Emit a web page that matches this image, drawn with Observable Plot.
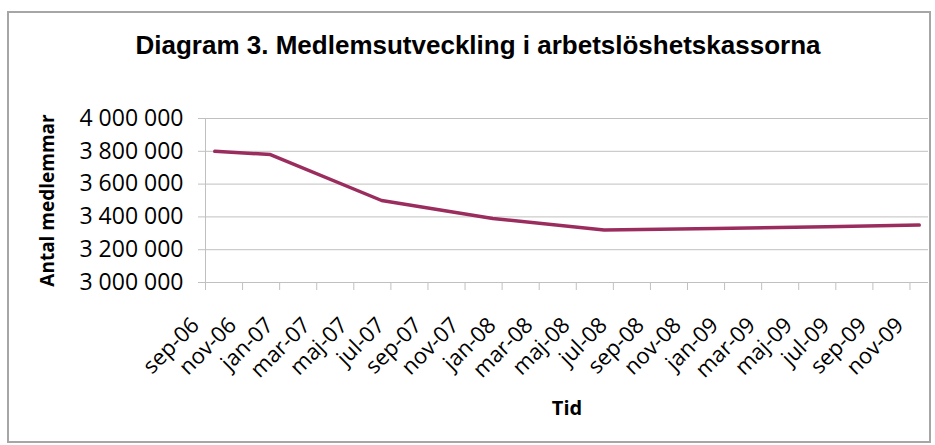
<!DOCTYPE html>
<html>
<head>
<meta charset="utf-8">
<script src="https://cdn.jsdelivr.net/npm/d3@7"></script>
<script src="https://cdn.jsdelivr.net/npm/@observablehq/plot@0.6"></script>
<style>
  body { margin: 0; background: #ffffff; }
  #wrap { position: relative; width: 935px; height: 445px; }
  #border { position: absolute; left: 7px; top: 11px; width: 920px; height: 428px; border: 2px solid #a6a6a6; pointer-events: none; }
  #wrap svg { position: absolute; left: 0; top: 0; }
</style>
</head>
<body>
<div id="wrap"><div id="border"></div></div>
<script>
const titleText = "Diagram 3. Medlemsutveckling i arbetslöshetskassorna";
const yTitle = "Antal medlemmar";
const xTitle = "Tid";

const monthNames = ["jan","feb","mar","apr","maj","jun","jul","aug","sep","okt","nov","dec"];
const tickLabels = ["sep-06","nov-06","jan-07","mar-07","maj-07","jul-07","sep-07","nov-07",
  "jan-08","mar-08","maj-08","jul-08","sep-08","nov-08","jan-09","mar-09","maj-09","jul-09","sep-09","nov-09"];
const dataMonths = ["sep-06","dec-06","jun-07","dec-07","jun-08","dec-08","jun-09","nov-09"];
const members = [3800000, 3780000, 3500000, 3390000, 3320000, 3330000, 3340000, 3350000];
const yTicks = [3000000, 3200000, 3400000, 3600000, 3800000, 4000000];

// month index relative to the first month on the axis
const first = tickLabels[0];
function monthIndex(s) {
  const [m, y] = s.split("-");
  const [m0, y0] = first.split("-");
  return (+y - +y0) * 12 + monthNames.indexOf(m) - monthNames.indexOf(m0);
}
const lastIndex = monthIndex(dataMonths[dataMonths.length - 1]);
const rows = dataMonths.map((d, i) => ({m: monthIndex(d), v: members[i]}));
// category boundaries (ticks) sit half a month before each labelled month
const tickRows = tickLabels.map(l => ({pos: monthIndex(l) - 0.5, label: l}));

const fmt = d => d3.format(",")(d).replace(/,/g, " ");
const grid = "#c0c0c0";

const chart = Plot.plot({
  width: 935,
  height: 445,
  marginLeft: 205,
  marginRight: 7,
  marginTop: 118,
  marginBottom: 163,
  x: {domain: [-0.5, lastIndex + 0.5], axis: null},
  y: {domain: [yTicks[0], yTicks[yTicks.length - 1]], axis: null},
  style: {background: "transparent", fontFamily: "'Open Sans', sans-serif", color: "#000", overflow: "visible"},
  marks: [
    Plot.ruleY(yTicks, {stroke: grid, strokeWidth: 1}),
    Plot.ruleX([-0.5], {stroke: grid, strokeWidth: 1}),
    Plot.axisY({ticks: yTicks, tickSize: 7, tickPadding: 15, tickFormat: fmt, fontSize: 23, stroke: grid, fill: "#000", label: null}),
    Plot.axisX({ticks: tickRows.map(d => d.pos), tickSize: 8, tickFormat: () => "", stroke: grid, label: null}),
    Plot.text(tickRows, {x: "pos", text: "label", frameAnchor: "bottom", rotate: -45, textAnchor: "end", lineAnchor: "bottom", dx: -5, dy: 44, fontSize: 22, fill: "#000"}),
    Plot.line(rows, {x: "m", y: "v", stroke: "#9b2d5e", strokeWidth: 3.5, strokeLinejoin: "round", strokeLinecap: "round"}),
    Plot.text([titleText], {text: d => d, frameAnchor: "top", dx: -89, dy: -73, lineAnchor: "middle", fontSize: 26, fontWeight: "bold", fontFamily: "'Liberation Sans', Arial, sans-serif", fill: "#000"}),
    Plot.text([yTitle], {text: d => d, frameAnchor: "left", dx: -158, rotate: -90, lineAnchor: "middle", textAnchor: "middle", fontSize: 19, fontWeight: "bold", fill: "#000"}),
    Plot.text([xTitle], {text: d => d, frameAnchor: "bottom", dy: 126, lineAnchor: "middle", fontSize: 20, fontWeight: "bold", fill: "#000"})
  ]
});
document.getElementById("wrap").appendChild(chart);
</script>
</body>
</html>
